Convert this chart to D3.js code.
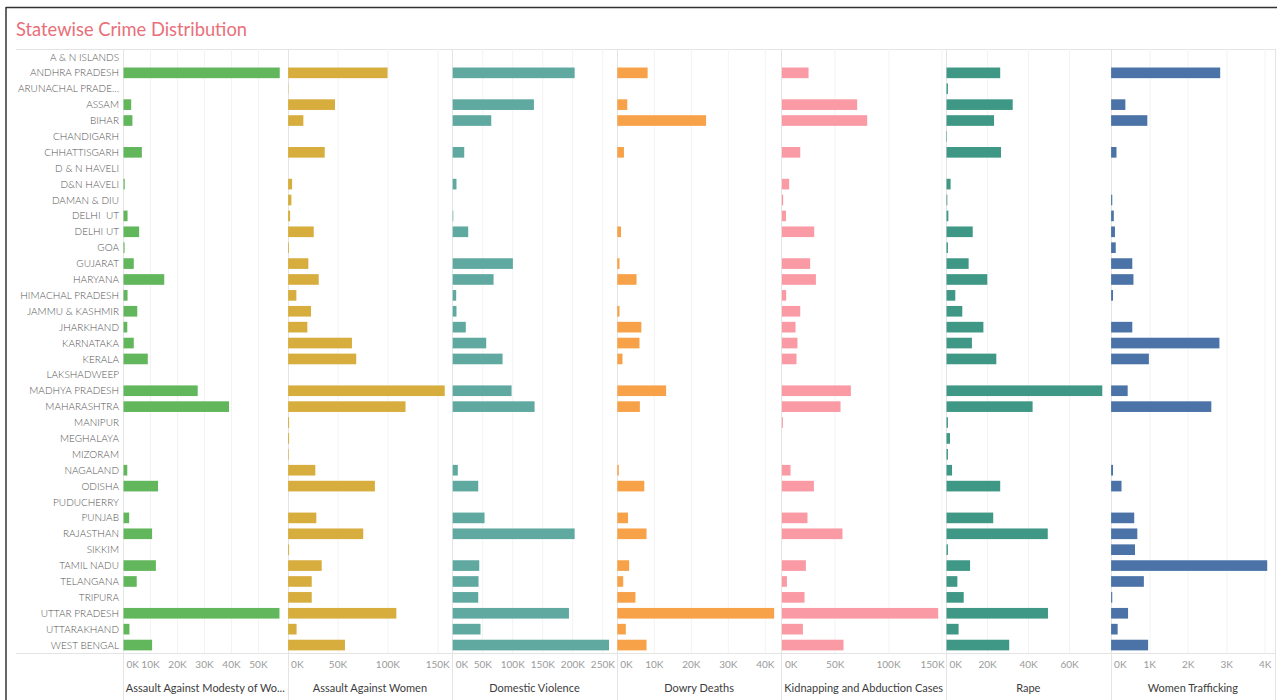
<!DOCTYPE html>
<html>
<head>
<meta charset="utf-8">
<script src="https://cdn.jsdelivr.net/npm/d3@7"></script>
<style>
  body { margin: 0; background: #fff; }
  svg { display: block; }
  text { font-family: Lato, "Open Sans", sans-serif; }
</style>
</head>
<body>
<svg id="chart" width="1277" height="700"></svg>
<script>
// ---- data -------------------------------------------------------------
const states = [
  "A & N ISLANDS", "ANDHRA PRADESH", "ARUNACHAL PRADESH", "ASSAM", "BIHAR",
  "CHANDIGARH", "CHHATTISGARH", "D & N HAVELI", "D&N HAVELI", "DAMAN & DIU",
  "DELHI  UT", "DELHI UT", "GOA", "GUJARAT", "HARYANA", "HIMACHAL PRADESH",
  "JAMMU & KASHMIR", "JHARKHAND", "KARNATAKA", "KERALA", "LAKSHADWEEP",
  "MADHYA PRADESH", "MAHARASHTRA", "MANIPUR", "MEGHALAYA", "MIZORAM",
  "NAGALAND", "ODISHA", "PUDUCHERRY", "PUNJAB", "RAJASTHAN", "SIKKIM",
  "TAMIL NADU", "TELANGANA", "TRIPURA", "UTTAR PRADESH", "UTTARAKHAND",
  "WEST BENGAL"
];

const crimeTypes = [
  "Assault Against Modesty of Women", "Assault Against Women",
  "Domestic Violence", "Dowry Deaths", "Kidnapping and Abduction Cases",
  "Rape", "Women Trafficking"
];

const modestyAssault = [0, 57900, 0, 2850, 3300, 0, 6800, 0, 450, 0, 1500, 5800,
  400, 3800, 15100, 1500, 5100, 1400, 3800, 9000, 0, 27500, 39100, 0, 0, 0,
  1400, 12800, 0, 2100, 10600, 0, 12000, 4900, 0, 57800, 2200, 10600];

const womenAssault = [0, 99700, 300, 47000, 15300, 0, 36700, 0, 4000, 3300, 2000,
  25700, 800, 20300, 30700, 8300, 23000, 19300, 64000, 68300, 0, 157000,
  117700, 1000, 1000, 600, 27300, 87000, 0, 28300, 75300, 1000, 33700, 23700,
  23700, 108500, 8500, 57000];

const domesticViolence = [0, 203000, 0, 135200, 64200, 0, 19200, 0, 6300, 0,
  1000, 25800, 0, 100200, 68000, 5800, 6300, 21800, 55800, 83000, 0, 98000,
  136300, 0, 0, 0, 8500, 42500, 0, 53000, 203000, 0, 44200, 43000, 42500,
  193500, 46300, 260200];

const dowryDeaths = [0, 8200, 0, 2700, 24000, 0, 1800, 0, 0, 0, 0, 1000, 0, 600,
  5200, 0, 600, 6500, 6000, 1400, 0, 13200, 6100, 0, 0, 0, 400, 7300, 0, 2900,
  7900, 0, 3200, 1600, 4900, 42400, 2300, 7900];

const kidnapping = [0, 25000, 0, 70600, 80000, 0, 17200, 0, 6800, 1200, 3800,
  30300, 0, 26500, 31900, 4000, 17200, 12800, 14600, 13700, 0, 64700, 55000,
  900, 0, 0, 8100, 30000, 0, 24000, 56800, 0, 22500, 4700, 21200, 146600,
  19700, 57800];

const rape = [0, 26200, 700, 32300, 23200, 250, 26600, 0, 2000, 400, 900, 12800,
  700, 10800, 19900, 4300, 7700, 18000, 12400, 24300, 0, 76000, 42000, 700,
  1700, 700, 2700, 26200, 0, 22800, 49400, 700, 11500, 5300, 8400, 49500,
  5900, 30600];

const trafficking = [0, 2830, 0, 370, 940, 0, 140, 0, 0, 30, 70, 100, 120, 550,
  580, 50, 0, 550, 2810, 980, 0, 430, 2600, 0, 0, 0, 50, 270, 0, 600, 680,
  620, 4050, 850, 30, 440, 170, 960];

const seriesValues = [modestyAssault, womenAssault, domesticViolence,
  dowryDeaths, kidnapping, rape, trafficking];

// axis extents and tick labels for each column
const axisMax = [61000, 165000, 274000, 44500, 154400, 80300, 4270];
const tickSets = [
  [0, 10000, 20000, 30000, 40000, 50000],
  [0, 50000, 100000, 150000],
  [0, 50000, 100000, 150000, 200000, 250000],
  [0, 10000, 20000, 30000, 40000],
  [0, 50000, 100000, 150000],
  [0, 20000, 40000, 60000],
  [0, 1000, 2000, 3000, 4000]
];

const colors = ["#62b65b", "#d7ad3e", "#5fa9a1", "#f7a249", "#f99aa5", "#3f9885", "#4b73a8"];

// ---- layout -----------------------------------------------------------
const svg = d3.select("#chart");
const paneLeft = 123, paneRight = 1275.2;
const rowsTop = 49, rowsBottom = 653;
const gridColor = "#e4e4e4";

const panel = d3.scaleBand().domain(d3.range(crimeTypes.length)).range([paneLeft, paneRight]);
const y = d3.scaleBand().domain(d3.range(states.length))
  .range([rowsTop, rowsBottom]).paddingInner(0.33).paddingOuter(0.165);

// dashboard frame
svg.append("line").attr("x1", 6).attr("x2", 1277).attr("y1", 7.5).attr("y2", 7.5)
  .attr("stroke", "#333").attr("stroke-width", 1.5);
svg.append("line").attr("x1", 6).attr("x2", 6).attr("y1", 7).attr("y2", 700)
  .attr("stroke", "#333").attr("stroke-width", 1.5);

// title
svg.append("text").attr("x", 16).attr("y", 36)
  .attr("fill", "#e8707a").attr("font-size", 18.5)
  .attr("textLength", 231).attr("lengthAdjust", "spacingAndGlyphs")
  .text("Statewise Crime Distribution");

// header / footer rules
[rowsTop, rowsBottom].forEach(v => {
  svg.append("line").attr("x1", 16).attr("x2", paneRight).attr("y1", v + 0.5).attr("y2", v + 0.5)
    .attr("stroke", gridColor);
});

// faint gridlines inside each pane
crimeTypes.forEach((c, i) => {
  const x = d3.scaleLinear().domain([0, axisMax[i]]).range([0, panel.bandwidth()]);
  const g = svg.append("g").attr("transform", `translate(${panel(i)},0)`);
  g.selectAll("line.grid").data(tickSets[i].filter(t => t > 0)).join("line")
    .attr("class", "grid")
    .attr("x1", d => Math.round(x(d)) + 0.5).attr("x2", d => Math.round(x(d)) + 0.5)
    .attr("y1", rowsTop).attr("y2", rowsBottom)
    .attr("stroke", "#f3f3f3");
});

// pane dividers
d3.range(crimeTypes.length + 1).forEach(i => {
  const xv = i < crimeTypes.length ? panel(i) : paneRight;
  svg.append("line").attr("x1", Math.round(xv) + 0.5).attr("x2", Math.round(xv) + 0.5)
    .attr("y1", rowsTop).attr("y2", 700).attr("stroke", gridColor);
});

// truncate a text node so it fits within maxW
function fitText(sel, full, maxW) {
  sel.text(full);
  if (sel.node().getComputedTextLength() <= maxW) return;
  let s = full;
  while (s.length > 1) {
    s = s.slice(0, -1);
    sel.text(s.trimEnd() + "...");
    if (sel.node().getComputedTextLength() <= maxW) return;
  }
}

// state labels
const rowLabels = svg.append("g");
states.forEach((s, i) => {
  const t = rowLabels.append("text")
    .attr("x", 119).attr("y", y(i) + y.bandwidth() / 2)
    .attr("dy", "0.36em").attr("text-anchor", "end")
    .attr("fill", "#555").attr("font-size", 10).attr("font-weight", 300)
    .style("white-space", "pre");
  fitText(t, s, 101);
});

// bars, axes and column titles
crimeTypes.forEach((c, i) => {
  const x = d3.scaleLinear().domain([0, axisMax[i]]).range([0, panel.bandwidth()]);
  const g = svg.append("g").attr("transform", `translate(${panel(i)},0)`);

  g.selectAll("rect").data(seriesValues[i]).join("rect")
    .attr("x", 0.5)
    .attr("y", (d, j) => y(j))
    .attr("width", d => x(d))
    .attr("height", y.bandwidth())
    .attr("fill", colors[i]);

  const axis = d3.axisBottom(x).tickValues(tickSets[i]).tickSize(0)
    .tickFormat(d => (d / 1000) + "K");
  const ag = g.append("g").attr("transform", `translate(0,${rowsBottom + 5})`).call(axis);
  ag.select(".domain").remove();
  ag.selectAll("text").attr("fill", "#9a9a9a").attr("font-size", 10)
    .attr("font-family", "Lato, 'Open Sans', sans-serif");
  // keep edge labels inside the pane
  ag.selectAll(".tick").each(function (d) {
    const t = d3.select(this).select("text");
    const w = t.node().getComputedTextLength();
    const px = x(d);
    if (px - w / 2 < 2) t.attr("text-anchor", "start").attr("x", 3 - px);
    else if (px + w / 2 > panel.bandwidth() - 1) t.attr("text-anchor", "end").attr("x", panel.bandwidth() - 2 - px);
  });

  const title = g.append("text")
    .attr("x", panel.bandwidth() / 2).attr("y", 692)
    .attr("text-anchor", "middle").attr("fill", "#3c3c3c").attr("font-size", 11);
  fitText(title, c, panel.bandwidth() - 4);
});
</script>
</body>
</html>
